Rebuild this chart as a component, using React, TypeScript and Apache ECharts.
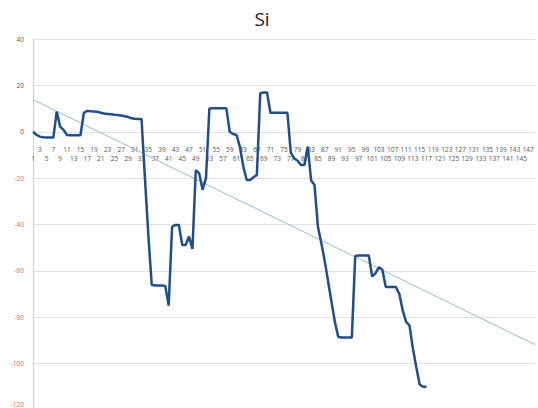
import React, { useEffect, useRef } from "react";
import * as echarts from "echarts";

const title = "Si";
const categoryCount = 149;
const categories: string[] = Array.from({ length: categoryCount }, (_, i) => String(i + 1));
const siValues: number[] = [
  0, -1.3, -2.1, -2.4, -2.5, -2.5, -2.5, 8.7, 2.2, 0.8,
  -1.4, -1.5, -1.5, -1.5, -1.5, 8.2, 9, 8.8, 8.7, 8.6,
  8.2, 7.9, 7.7, 7.5, 7.3, 7.2, 7.0, 6.7, 6.4, 5.8,
  5.6, 5.5, 5.5, -20, -44.5, -66, -66.3, -66.3, -66.3, -66.5,
  -75, -41, -40.2, -40.2, -48.8, -48.8, -45.2, -50.5, -16.5, -18,
  -25, -20, 10, 10.1, 10.1, 10.1, 10.1, 10.1, 0, -1,
  -1.4, -6.5, -15, -20.8, -20.8, -19.6, -18.6, 16.6, 16.9, 16.9,
  8.2, 8.2, 8.2, 8.2, 8.2, 8.2, -9, -11.5, -12.5, -14.3,
  -14.3, -6.4, -21, -23, -41, -48, -55.7, -64.5, -73.3, -82,
  -88.5, -88.7, -88.7, -88.7, -88.7, -53.6, -53.4, -53.4, -53.4, -53.4,
  -62.4, -61, -58.4, -59.5, -67, -67, -67, -67, -70, -77,
  -82, -83.5, -93.5, -101.6, -109, -110, -110,
];
const trendEnds: number[] = [13.8, -91.8];
const yMin = -120;
const yMax = 40;
const yStep = 20;

const GRID_TOP = 39;
const GRID_HEIGHT = 371;

export default function App() {
  const ref = useRef<HTMLDivElement>(null);
  useEffect(() => {
    if (!ref.current) return;
    const chart = echarts.init(ref.current, undefined, { renderer: "svg" });
    const trendData: (number | null)[] = categories.map(() => null);
    trendData[0] = trendEnds[0];
    trendData[categories.length - 1] = trendEnds[1];
    // move the category axis up to the zero line
    const zeroOffset = -(GRID_HEIGHT * (0 - yMin)) / (yMax - yMin);
    chart.setOption({
      animation: false,
      backgroundColor: "#ffffff",
      textStyle: { fontFamily: "Open Sans, Lato, sans-serif" },
      title: {
        text: title,
        left: 257,
        top: 4,
        textAlign: "center",
        textStyle: { fontSize: 19, fontWeight: "normal", color: "#222", fontFamily: "Open Sans, sans-serif" },
      },
      grid: { left: 33, right: 3, top: GRID_TOP, height: GRID_HEIGHT, containLabel: false },
      xAxis: {
        type: "category",
        data: categories,
        boundaryGap: false,
        offset: zeroOffset,
        axisLine: { onZero: false, show: false },
        axisTick: { show: false },
        splitLine: { show: false },
        axisLabel: {
          interval: 1,
          fontSize: 6.5,
          lineHeight: 9,
          margin: 13,
          color: "#555",
          formatter: (v: string, idx: number) => (idx % 4 === 0 ? "\n" + v : v),
        },
      },
      yAxis: {
        type: "value",
        min: yMin,
        max: yMax,
        interval: yStep,
        axisLine: { show: true, lineStyle: { color: "#d0d0d0" } },
        axisTick: { show: false },
        splitLine: { show: true, lineStyle: { color: "#e2e2e2", width: 1 } },
        axisLabel: {
          fontSize: 6.5,
          margin: 9,
          color: (v: any) => (Number(v) < 0 ? "#e8646a" : "#555"),
          formatter: (v: number) => (v === yMin ? "{low|" + v + "}" : String(v)),
          rich: {
            low: { fontSize: 6.5, color: "#e8646a", padding: [0, 0, 12, 0] },
          },
        },
      },
      series: [
        {
          type: "line",
          data: trendData,
          connectNulls: true,
          symbol: "none",
          lineStyle: { color: "#9db9d6", width: 1 },
          z: 1,
        },
        {
          type: "line",
          data: siValues,
          symbol: "none",
          lineStyle: { color: "#1f4e8c", width: 2.5 },
          z: 2,
        },
      ],
    });
    return () => chart.dispose();
  }, []);
  return (
    <div style={{ position: "absolute", left: 0, top: 0, width: 538, height: 408, overflow: "hidden" }}>
      <div ref={ref} style={{ width: 538, height: 420 }} />
    </div>
  );
}
